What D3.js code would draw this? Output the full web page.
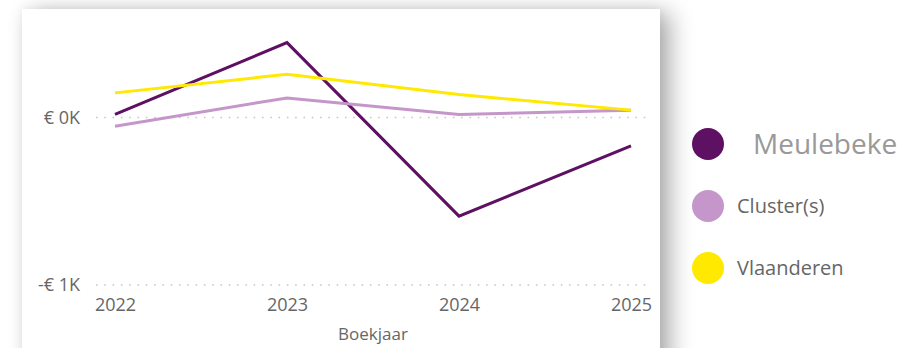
<!DOCTYPE html>
<html>
<head>
<meta charset="utf-8">
<script src="https://cdn.jsdelivr.net/npm/d3@7"></script>
<style>
  html, body { margin: 0; padding: 0; background: #fff; width: 922px; height: 348px; overflow: hidden; }
  #wrap { position: relative; width: 922px; height: 348px; }
  #card { position: absolute; left: 22px; top: 9px; width: 638px; height: 380px; background: #fff;
          box-shadow: 10px 4px 22px rgba(0,0,0,0.33), 0 0 10px rgba(0,0,0,0.06); }
  svg { position: absolute; left: 0; top: 0; }
  text { font-family: "Segoe UI", "Open Sans", sans-serif; }
</style>
</head>
<body>
<div id="wrap"><div id="card"></div></div>
<script>
const years = ["2022", "2023", "2024", "2025"];
const seriesNames = ["Meulebeke", "Cluster(s)", "Vlaanderen"];
const meulebeke = [18, 447, -589, -169];
const clusters = [-52, 117, 18, 44];
const vlaanderen = [147, 258, 137, 44];
const yTicks = [0, -1000];
const yTickLabels = ["€ 0K", "-€ 1K"];
const colors = ["#5E1062", "#C596C9", "#FFE900"];
const xTitle = "Boekjaar";

const values = [meulebeke, clusters, vlaanderen];

const svg = d3.select("#wrap").append("svg").attr("width", 922).attr("height", 348);

const x = d3.scalePoint().domain(years).range([115, 631]);
const y = d3.scaleLinear().domain([-1000, 0]).range([285, 117.5]);

// gridlines
svg.append("g").selectAll("line").data(yTicks).join("line")
  .attr("x1", 96).attr("x2", 650)
  .attr("y1", d => y(d)).attr("y2", d => y(d))
  .attr("stroke", "#c4c4c4").attr("stroke-width", 1.5)
  .attr("stroke-dasharray", "1.5,6.8");

// y labels
svg.append("g").selectAll("text").data(yTicks).join("text")
  .attr("x", 80).attr("y", d => y(d)).attr("dy", "0.35em")
  .attr("text-anchor", "end").attr("font-size", 18).attr("fill", "#666")
  .text((d, i) => yTickLabels[i]);

// x axis
const xAxis = d3.axisBottom(x).tickSize(0).tickPadding(0);
const gx = svg.append("g").attr("transform", "translate(0,298)").call(xAxis);
gx.select(".domain").remove();
gx.selectAll("text").attr("font-size", 18).attr("fill", "#666").attr("dy", "0.71em")
  .style("font-family", "'Segoe UI', 'Open Sans', sans-serif");

svg.append("text").attr("x", 373).attr("y", 340).attr("text-anchor", "middle")
  .attr("font-size", 17).attr("fill", "#666").text(xTitle);

// lines
const line = d3.line().x((d, i) => x(years[i])).y(d => y(d));
svg.append("g").selectAll("path").data(values).join("path")
  .attr("d", d => line(d)).attr("fill", "none")
  .attr("stroke", (d, i) => colors[i]).attr("stroke-width", 3)
  .attr("stroke-linejoin", "miter");

// legend
const legY = [144, 206, 268];
const leg = svg.append("g");
leg.selectAll("circle").data(seriesNames).join("circle")
  .attr("cx", 708).attr("cy", (d, i) => legY[i]).attr("r", 16)
  .attr("fill", (d, i) => colors[i]);
leg.selectAll("text").data(seriesNames).join("text")
  .attr("x", (d, i) => i === 0 ? 753 : 737)
  .attr("y", (d, i) => legY[i]).attr("dy", "0.35em")
  .attr("font-size", (d, i) => i === 0 ? 28 : 20)
  .attr("fill", (d, i) => i === 0 ? "#999" : "#666")
  .text(d => d);
</script>
</body>
</html>
